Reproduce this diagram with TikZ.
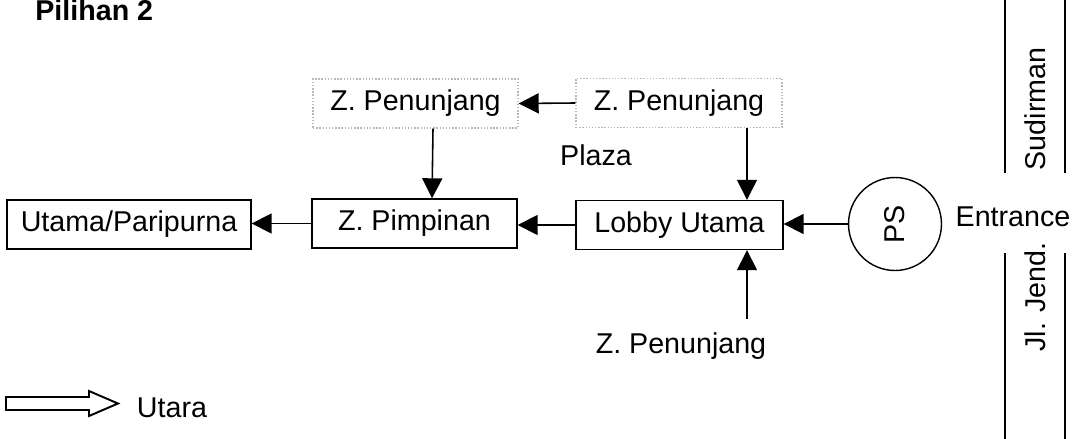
\documentclass[tikz,border=0pt]{standalone}
\usepackage{fontspec}
\setmainfont{Liberation Sans}
\usetikzlibrary{arrows.meta}

\tikzset{
  zone/.style={draw,line width=0.8pt,inner sep=0pt,minimum height=0.98cm,font=\fontsize{16.3}{19}\selectfont},
  zonelight/.style={zone,draw=gray!55,densely dotted},
  lbl/.style={inner sep=0pt,font=\fontsize{16.3}{19}\selectfont},
  arr/.style={line width=0.9pt,-{Triangle[length=0.4cm,width=0.4cm]}},
  road/.style={line width=0.9pt}
}

\begin{document}
\begin{tikzpicture}[x=0.02cm,y=-0.02cm]
			\useasboundingbox (0,0) rectangle (1075,439);
			\node[lbl,anchor=base west,font=\fontsize{16.3}{19}\selectfont\bfseries] (title) at (35,21) {Pilihan 2};
			% zona penunjang di atas
			\node[zonelight,minimum width=4.1cm] (ptL) at (415.5,103.5) {Z. Penunjang};
			\node[zonelight,minimum width=4.12cm] (ptR) at (679,103) {Z. Penunjang};
			\node[lbl] (plaza) at (596,155) {Plaza};
			% alur utama
			\node[zone,minimum width=4.88cm] (utama) at (129,224.5) {Utama/Paripurna};
			\node[zone,minimum width=4.1cm] (pimp) at (414.5,223.5) {Z. Pimpinan};
			\node[zone,minimum width=4.14cm] (lobby) at (679.5,225) {Lobby Utama};
			\node[circle,draw,line width=0.8pt,minimum size=1.86cm,inner sep=0pt] (ps) at (895,224) {};
			\node[lbl,rotate=90] (pstxt) at (ps) {PS};
			\node[lbl] (entr) at (1013,217) {Entrance};
			\node[lbl] (pb) at (681,346) {Z. Penunjang};
			\coordinate (pbtop) at (747,319);
			\draw[arr] (ptR.west) -- (ptL.east);
			\draw[arr] ([xshift=0.35cm]ptL.south) -- ([xshift=0.35cm]pimp.north);
			\draw[arr] ([xshift=1.36cm]ptR.south) -- ([xshift=1.36cm]ptR.south |- lobby.north);
			\draw[arr] (pbtop) -- (pbtop |- lobby.south);
			\draw[arr] (ps.west) -- (ps.west -| lobby.east);
			\draw[arr] (lobby.west) -- (lobby.west -| pimp.east);
			\draw[arr] (pimp.west) -- (pimp.west -| utama.east);
			% jalan
			\draw[road] (1005,0) -- (1005,173) (1065,0) -- (1065,173);
			\draw[road] (1005,253) -- (1005,439) (1065,253) -- (1065,439);
			\node[lbl,rotate=90] (sud) at (1035,109) {Sudirman};
			\node[lbl,rotate=90] (jend) at (1035,297) {Jl. Jend.};
			% arah utara
			\draw[line width=1.1pt,line join=miter] (6,397) -- (89,397) -- (89,391) -- (118,403.5) -- (89,416) -- (89,410) -- (6,410) -- cycle;
			\node[lbl] (utara) at (172,408) {Utara};
		\end{tikzpicture}
\end{document}
